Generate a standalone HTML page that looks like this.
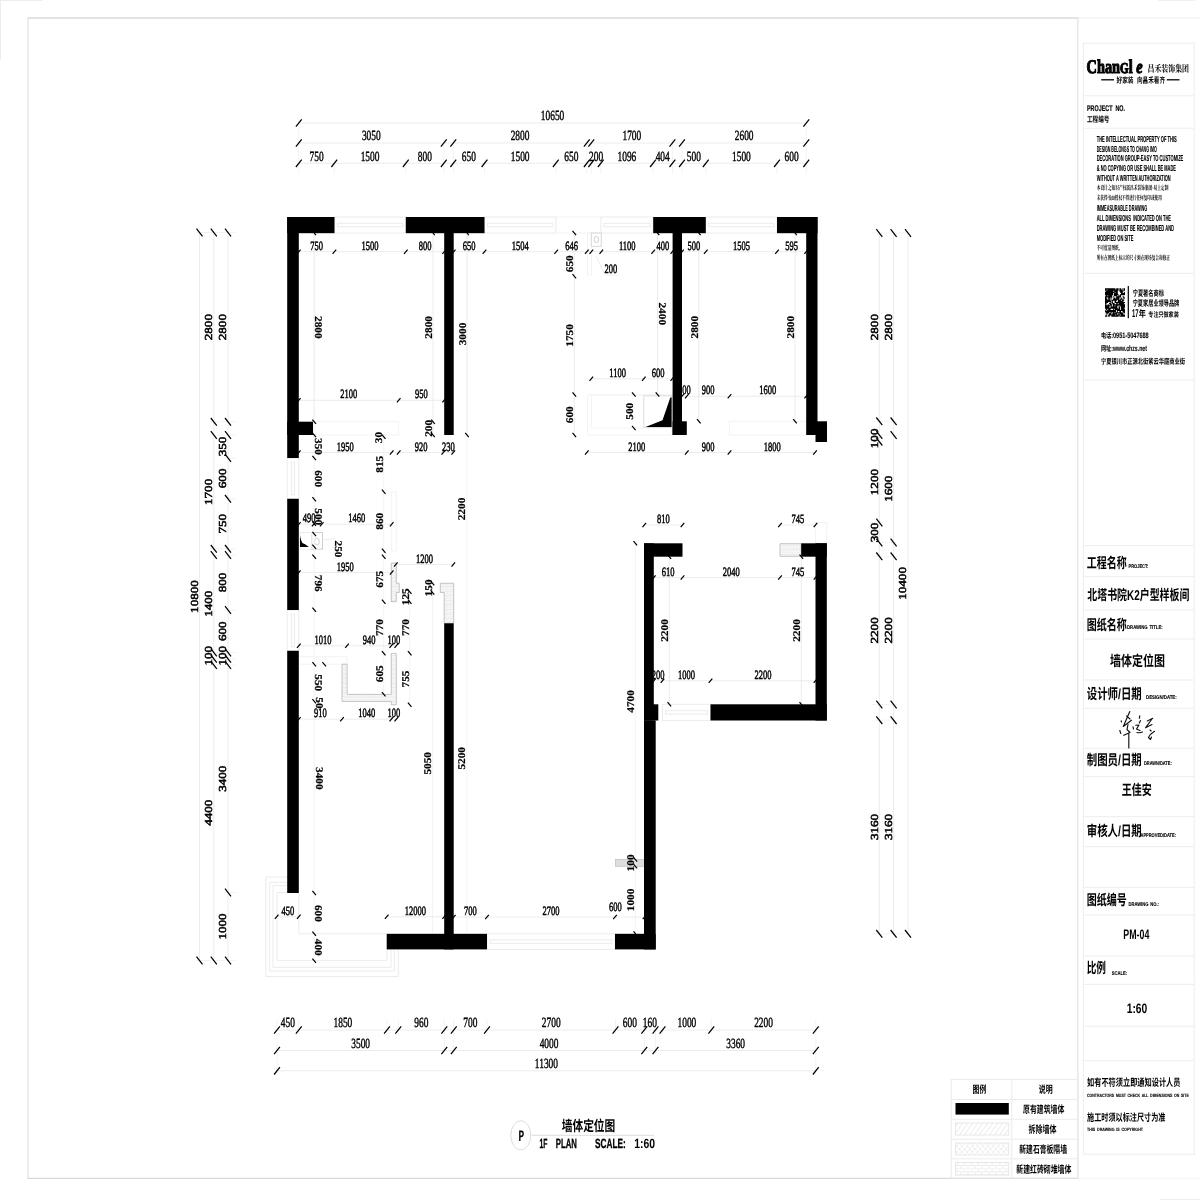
<!DOCTYPE html>
<html lang="zh"><head><meta charset="utf-8"><title>墙体定位图 1F PLAN SCALE 1:60</title>
<style>html,body{margin:0;padding:0;background:#fff}body{width:1200px;height:1200px;overflow:hidden;font-family:"Liberation Sans",sans-serif}svg{display:block;will-change:transform}text{text-rendering:geometricPrecision}.o{stroke-width:.3px}.ov{stroke-width:.5px}.i{stroke-width:.4px}.iv{font-weight:bold;stroke-width:.2px}.cs{font-family:"Liberation Serif","Noto Serif CJK SC",serif;font-weight:bold;fill:#000}.cg{font-family:"Liberation Sans","Noto Sans CJK SC",sans-serif;font-weight:bold;fill:#000}</style>
</head><body>
<svg width="1200" height="1200" viewBox="0 0 1200 1200" shape-rendering="auto">
<g id="plan"><line x1="27.5" y1="18" x2="1078" y2="18" stroke="#dadada" stroke-width="1.3"/>
<line x1="1078" y1="18" x2="1200" y2="18" stroke="#ececec" stroke-width="1"/>
<line x1="28" y1="18" x2="28" y2="1178.3" stroke="#e4e4e4" stroke-width="1.3"/>
<line x1="27.5" y1="1178.3" x2="1078" y2="1178.3" stroke="#d8d8d8" stroke-width="1.3"/>
<line x1="1078" y1="1178.3" x2="1200" y2="1178.3" stroke="#f4f4f4" stroke-width="1"/>
<line x1="1077.8" y1="18" x2="1077.8" y2="1178.3" stroke="#e4e4e4" stroke-width="1.3"/>
<line x1="0" y1="0.5" x2="42" y2="0.5" stroke="#ededed" stroke-width="1"/>
<line x1="1158" y1="0.5" x2="1195" y2="0.5" stroke="#f0f0f0" stroke-width="1"/>
<line x1="0.5" y1="0" x2="0.5" y2="60" stroke="#ededed" stroke-width="1"/>
<line x1="1160" y1="1199.5" x2="1200" y2="1199.5" stroke="#ededed" stroke-width="1"/>
<rect x="334.5" y="217" width="71.3" height="16" fill="none" stroke="#ececec" stroke-width="1"/>
<rect x="337.5" y="223.3" width="65.3" height="3.4" fill="none" stroke="#ececec"/>
<rect x="484.5" y="217" width="71.3" height="16" fill="none" stroke="#ececec" stroke-width="1"/>
<rect x="487.5" y="223.3" width="65.3" height="3.4" fill="none" stroke="#ececec"/>
<rect x="601" y="217" width="52.2" height="16" fill="none" stroke="#ececec" stroke-width="1"/>
<rect x="604" y="223.3" width="46.2" height="3.4" fill="none" stroke="#ececec"/>
<rect x="555.8" y="217" width="45.2" height="16" fill="none" stroke="#f3f3f3" stroke-width="1"/>
<rect x="705.8" y="217" width="71.2" height="16" fill="none" stroke="#ececec" stroke-width="1"/>
<rect x="708.8" y="223.3" width="65.2" height="3.4" fill="none" stroke="#ececec"/>
<rect x="287.2" y="458" width="11.6" height="40.8" fill="none" stroke="#ececec" stroke-width="1"/>
<rect x="291.5" y="462" width="3" height="32.8" fill="none" stroke="#ececec"/>
<rect x="287.2" y="610" width="11.6" height="40.8" fill="none" stroke="#ececec" stroke-width="1"/>
<rect x="291.5" y="614" width="3" height="32.8" fill="none" stroke="#ececec"/>
<rect x="487" y="933.8" width="128" height="15.6" fill="none" stroke="#ececec" stroke-width="1"/>
<rect x="490" y="939.9" width="122" height="3.4" fill="none" stroke="#ececec"/>
<rect x="662.5" y="704.3" width="48" height="16.2" fill="none" stroke="#ececec" stroke-width="1"/>
<rect x="665.5" y="710.7" width="42" height="3.4" fill="none" stroke="#ececec"/>
<path d="M287.2 877H265.8V976.5H398.3V949.4" fill="none" stroke="#ececec"/>
<path d="M287.2 882.3H269.7V971H394.3V949.4M287.2 885.5H273V967.3H391V949.4M287.2 892.5H277V960.4H387V949.4" fill="none" stroke="#ececec"/>
<path d="M298.8 893V933.8H386.7" fill="none" stroke="#ececec"/>
<rect x="313" y="421.7" width="85.7" height="13.3" fill="none" stroke="#f3f3f3" stroke-width="1"/>
<path d="M298.8 656.7H347V664.2M298.8 664.2H342" fill="none" stroke="#f3f3f3"/>
<rect x="587.5" y="395" width="84.5" height="40" fill="none" stroke="#f3f3f3" stroke-width="1"/>
<rect x="591.3" y="395" width="80.7" height="33" fill="none" stroke="#f3f3f3" stroke-width="1"/>
<rect x="643.8" y="395.8" width="27.7" height="31.7" fill="none" stroke="#dcdcdc" stroke-width="1"/>
<rect x="729.5" y="421.3" width="76.8" height="13.7" fill="none" stroke="#f3f3f3" stroke-width="1"/>
<rect x="587.5" y="233" width="3.8" height="42" fill="none" stroke="#f3f3f3" stroke-width="1"/>
<rect x="591.3" y="233" width="10" height="13.3" fill="none" stroke="#d8d8d8" stroke-width="1"/>
<ellipse cx="596.3" cy="239.6" rx="2.2" ry="3.3" fill="none" stroke="#d0d0d0"/>
<path d="M596.3 256L605 275H617.5" fill="none" stroke="#ececec"/>
<rect x="311.7" y="532.5" width="10.8" height="16.7" fill="none" stroke="#cfcfcf" stroke-width="1"/>
<ellipse cx="316.9" cy="541.5" rx="2.3" ry="3.4" fill="none" stroke="#cfcfcf"/>
<rect x="300" y="532.5" width="11.7" height="16.7" fill="none" stroke="#ececec" stroke-width="1"/>
<line x1="322.5" y1="540.2" x2="335" y2="538.5" stroke="#ececec" stroke-width="1"/>
<rect x="391.7" y="491.7" width="4.6" height="59.1" fill="none" stroke="#f3f3f3" stroke-width="1"/>
<rect x="815.5" y="522.5" width="11.3" height="20.8" fill="none" stroke="#f3f3f3" stroke-width="1"/>
<defs><pattern id="bk" width="3.4" height="4.6" patternUnits="userSpaceOnUse"><path d="M0 0H3.4M0 2.3H3.4M0 0V2.3M1.7 2.3V4.6" stroke="#e2e2e2" stroke-width="0.6" fill="none"/></pattern><pattern id="bk2" x="955.5" y="1162.5" width="7" height="6.25" patternUnits="userSpaceOnUse"><path d="M0 3.1H7M0 6.2H7M2 0V3.1M5.5 3.1V6.2" stroke="#e0e0e0" stroke-width="0.6" fill="none"/></pattern><pattern id="gy" width="2" height="2" patternUnits="userSpaceOnUse"><path d="M0 0L2 2M2 0L0 2" stroke="#c9c9c9" stroke-width="0.5"/></pattern><pattern id="dg" width="5" height="7" patternUnits="userSpaceOnUse"><path d="M0 7L5 0" stroke="#dedede" stroke-width="0.7"/></pattern><pattern id="xx" width="5.2" height="6" patternUnits="userSpaceOnUse"><path d="M0 0L5.2 6M5.2 0L0 6" stroke="#e3e3e3" stroke-width="0.6"/></pattern></defs>
<polygon points="342,664.2 347.1,664.2 347.1,694.4 391.3,694.4 391.3,653.4 396.3,653.4 396.3,704.8 391.3,704.8 391.3,701.4 342,701.4" fill="#fafafa"/>
<polygon points="342,664.2 347.1,664.2 347.1,694.4 391.3,694.4 391.3,653.4 396.3,653.4 396.3,704.8 391.3,704.8 391.3,701.4 342,701.4" fill="url(#bk)" stroke="#bdbdbd" stroke-width="0.9"/>
<polygon points="391.3,563 396.3,563 396.3,583.3 399.2,583.3 399.2,592.5 396.3,592.5 396.3,601.7 391.3,601.7" fill="#fafafa"/>
<polygon points="391.3,563 396.3,563 396.3,583.3 399.2,583.3 399.2,592.5 396.3,592.5 396.3,601.7 391.3,601.7" fill="url(#bk)" stroke="#bdbdbd" stroke-width="0.9"/>
<polygon points="440.3,583.3 453.7,583.3 453.7,623.3 444.2,623.3 444.2,592.5 440.3,592.5" fill="#fafafa"/>
<polygon points="440.3,583.3 453.7,583.3 453.7,623.3 444.2,623.3 444.2,592.5 440.3,592.5" fill="url(#bk)" stroke="#bdbdbd" stroke-width="0.9"/>
<polygon points="780,543.7 801.2,543.7 801.2,556.3 780,556.3" fill="#fafafa"/>
<polygon points="780,543.7 801.2,543.7 801.2,556.3 780,556.3" fill="url(#bk)" stroke="#bdbdbd" stroke-width="0.9"/>
<rect x="615.5" y="859.5" width="29" height="6.8" fill="#f3f3f3"/>
<rect x="615.5" y="859.5" width="29" height="6.8" fill="url(#gy)" stroke="#c4c4c4" stroke-width="0.8"/>
<rect x="287.2" y="217" width="47.3" height="16.2" fill="#000"/>
<rect x="287.2" y="217" width="11.6" height="241" fill="#000"/>
<rect x="287.2" y="421.7" width="25.8" height="13.3" fill="#000"/>
<rect x="287.2" y="498.8" width="11.6" height="111.2" fill="#000"/>
<rect x="287.2" y="650.8" width="11.6" height="242.2" fill="#000"/>
<rect x="405.8" y="217" width="78.7" height="16.2" fill="#000"/>
<rect x="444.2" y="217" width="9.5" height="218" fill="#000"/>
<rect x="653.2" y="217" width="52.6" height="16.2" fill="#000"/>
<rect x="672.6" y="217" width="9.4" height="218" fill="#000"/>
<rect x="672.6" y="421.3" width="14.2" height="13.7" fill="#000"/>
<rect x="777" y="217" width="40.5" height="16.2" fill="#000"/>
<rect x="806.2" y="217" width="11.3" height="218" fill="#000"/>
<rect x="815.5" y="421.3" width="11.5" height="20.7" fill="#000"/>
<rect x="444.2" y="623.3" width="9.5" height="326.1" fill="#000"/>
<rect x="386.7" y="933.8" width="100.3" height="15.6" fill="#000"/>
<rect x="615" y="933.8" width="40.7" height="15.6" fill="#000"/>
<rect x="644" y="720.4" width="11.7" height="229" fill="#000"/>
<rect x="644" y="543.3" width="9.8" height="177.2" fill="#000"/>
<rect x="644" y="704.3" width="14.3" height="16.2" fill="#000"/>
<rect x="644" y="543.3" width="38.5" height="13.4" fill="#000"/>
<rect x="801.2" y="543.3" width="25.6" height="13.4" fill="#000"/>
<rect x="815.5" y="543.3" width="11.3" height="177.2" fill="#000"/>
<rect x="710.5" y="704.3" width="116.3" height="16.2" fill="#000"/>
<polygon points="645.5,426.9 662.5,420.2 670.3,397.6 671.6,397.6 671.6,426.9" fill="#000"/>
<polygon points="300,535.8 300,547 308.8,547 305.5,544.6 302.4,543 301,540" fill="#000"/>
<line x1="298.8" y1="123" x2="806.3" y2="123" stroke="#ececec" stroke-width="1"/>
<line x1="298.8" y1="143" x2="806.3" y2="143" stroke="#ececec" stroke-width="1"/>
<line x1="298.8" y1="163.3" x2="806.3" y2="163.3" stroke="#ececec" stroke-width="1"/>
<line x1="298.8" y1="119" x2="298.8" y2="174" stroke="#f3f3f3" stroke-width="1"/>
<line x1="806.3" y1="119" x2="806.3" y2="174" stroke="#f3f3f3" stroke-width="1"/>
<line x1="443.8" y1="139" x2="443.8" y2="174" stroke="#f3f3f3" stroke-width="1"/>
<line x1="453.3" y1="139" x2="453.3" y2="174" stroke="#f3f3f3" stroke-width="1"/>
<line x1="586.8" y1="139" x2="586.8" y2="174" stroke="#f3f3f3" stroke-width="1"/>
<line x1="591.3" y1="139" x2="591.3" y2="174" stroke="#f3f3f3" stroke-width="1"/>
<line x1="672.4" y1="139" x2="672.4" y2="174" stroke="#f3f3f3" stroke-width="1"/>
<line x1="682" y1="139" x2="682" y2="174" stroke="#f3f3f3" stroke-width="1"/>
<line x1="334.3" y1="159" x2="334.3" y2="174" stroke="#f3f3f3" stroke-width="1"/>
<line x1="405.8" y1="159" x2="405.8" y2="174" stroke="#f3f3f3" stroke-width="1"/>
<line x1="484.5" y1="159" x2="484.5" y2="174" stroke="#f3f3f3" stroke-width="1"/>
<line x1="555.8" y1="159" x2="555.8" y2="174" stroke="#f3f3f3" stroke-width="1"/>
<line x1="600.8" y1="159" x2="600.8" y2="174" stroke="#f3f3f3" stroke-width="1"/>
<line x1="653" y1="159" x2="653" y2="174" stroke="#f3f3f3" stroke-width="1"/>
<line x1="705.8" y1="159" x2="705.8" y2="174" stroke="#f3f3f3" stroke-width="1"/>
<line x1="777" y1="159" x2="777" y2="174" stroke="#f3f3f3" stroke-width="1"/>
<line x1="277" y1="1030" x2="815.8" y2="1030" stroke="#ececec" stroke-width="1"/>
<line x1="277" y1="1050.5" x2="815.8" y2="1050.5" stroke="#ececec" stroke-width="1"/>
<line x1="277" y1="1070.8" x2="815.8" y2="1070.8" stroke="#ececec" stroke-width="1"/>
<line x1="277" y1="1019" x2="277" y2="1075" stroke="#f3f3f3" stroke-width="1"/>
<line x1="815.8" y1="1019" x2="815.8" y2="1075" stroke="#f3f3f3" stroke-width="1"/>
<line x1="444.3" y1="1019" x2="444.3" y2="1054" stroke="#f3f3f3" stroke-width="1"/>
<line x1="453.8" y1="1019" x2="453.8" y2="1054" stroke="#f3f3f3" stroke-width="1"/>
<line x1="644.3" y1="1019" x2="644.3" y2="1054" stroke="#f3f3f3" stroke-width="1"/>
<line x1="655.5" y1="1019" x2="655.5" y2="1054" stroke="#f3f3f3" stroke-width="1"/>
<line x1="298.8" y1="1019" x2="298.8" y2="1034" stroke="#f3f3f3" stroke-width="1"/>
<line x1="387" y1="1019" x2="387" y2="1034" stroke="#f3f3f3" stroke-width="1"/>
<line x1="398.3" y1="1019" x2="398.3" y2="1034" stroke="#f3f3f3" stroke-width="1"/>
<line x1="487" y1="1019" x2="487" y2="1034" stroke="#f3f3f3" stroke-width="1"/>
<line x1="615.5" y1="1019" x2="615.5" y2="1034" stroke="#f3f3f3" stroke-width="1"/>
<line x1="662.5" y1="1019" x2="662.5" y2="1034" stroke="#f3f3f3" stroke-width="1"/>
<line x1="711.3" y1="1019" x2="711.3" y2="1034" stroke="#f3f3f3" stroke-width="1"/>
<line x1="199.5" y1="232.5" x2="199.5" y2="960.5" stroke="#ececec" stroke-width="1"/>
<line x1="213.8" y1="232.5" x2="213.8" y2="960.5" stroke="#ececec" stroke-width="1"/>
<line x1="228" y1="232.5" x2="228" y2="960.5" stroke="#ececec" stroke-width="1"/>
<line x1="196" y1="232.5" x2="236" y2="232.5" stroke="#f3f3f3" stroke-width="1"/>
<line x1="196" y1="960.5" x2="236" y2="960.5" stroke="#f3f3f3" stroke-width="1"/>
<line x1="210" y1="421.8" x2="236" y2="421.8" stroke="#f3f3f3" stroke-width="1"/>
<line x1="210" y1="435" x2="236" y2="435" stroke="#f3f3f3" stroke-width="1"/>
<line x1="210" y1="548.8" x2="236" y2="548.8" stroke="#f3f3f3" stroke-width="1"/>
<line x1="210" y1="555" x2="236" y2="555" stroke="#f3f3f3" stroke-width="1"/>
<line x1="210" y1="652.5" x2="236" y2="652.5" stroke="#f3f3f3" stroke-width="1"/>
<line x1="210" y1="658.8" x2="236" y2="658.8" stroke="#f3f3f3" stroke-width="1"/>
<line x1="210" y1="665" x2="236" y2="665" stroke="#f3f3f3" stroke-width="1"/>
<line x1="224" y1="458" x2="236" y2="458" stroke="#f3f3f3" stroke-width="1"/>
<line x1="224" y1="498.8" x2="236" y2="498.8" stroke="#f3f3f3" stroke-width="1"/>
<line x1="224" y1="610" x2="236" y2="610" stroke="#f3f3f3" stroke-width="1"/>
<line x1="224" y1="892.5" x2="236" y2="892.5" stroke="#f3f3f3" stroke-width="1"/>
<line x1="879.3" y1="233" x2="879.3" y2="933.8" stroke="#ececec" stroke-width="1"/>
<line x1="893.6" y1="233" x2="893.6" y2="933.8" stroke="#ececec" stroke-width="1"/>
<line x1="908" y1="233" x2="908" y2="933.8" stroke="#ececec" stroke-width="1"/>
<line x1="872" y1="233" x2="912" y2="233" stroke="#f3f3f3" stroke-width="1"/>
<line x1="872" y1="933.8" x2="912" y2="933.8" stroke="#f3f3f3" stroke-width="1"/>
<line x1="872" y1="421.3" x2="897" y2="421.3" stroke="#f3f3f3" stroke-width="1"/>
<line x1="872" y1="435" x2="897" y2="435" stroke="#f3f3f3" stroke-width="1"/>
<line x1="872" y1="542.5" x2="897" y2="542.5" stroke="#f3f3f3" stroke-width="1"/>
<line x1="872" y1="556.3" x2="897" y2="556.3" stroke="#f3f3f3" stroke-width="1"/>
<line x1="872" y1="704.5" x2="897" y2="704.5" stroke="#f3f3f3" stroke-width="1"/>
<line x1="872" y1="720.2" x2="897" y2="720.2" stroke="#f3f3f3" stroke-width="1"/>
<line x1="872" y1="441.7" x2="883" y2="441.7" stroke="#f3f3f3" stroke-width="1"/>
<line x1="872" y1="522.5" x2="883" y2="522.5" stroke="#f3f3f3" stroke-width="1"/>
<line x1="298.8" y1="251.7" x2="444.2" y2="251.7" stroke="#ececec" stroke-width="1"/>
<line x1="453.7" y1="251.7" x2="672.3" y2="251.7" stroke="#ececec" stroke-width="1"/>
<line x1="682" y1="251.7" x2="806.2" y2="251.7" stroke="#ececec" stroke-width="1"/>
<line x1="314.2" y1="233" x2="314.2" y2="421.7" stroke="#ececec" stroke-width="1"/>
<line x1="314.2" y1="233" x2="314.2" y2="960.8" stroke="#f3f3f3" stroke-width="1"/>
<line x1="433" y1="233" x2="433" y2="435" stroke="#ececec" stroke-width="1"/>
<line x1="467" y1="233" x2="467" y2="435" stroke="#ececec" stroke-width="1"/>
<line x1="467" y1="233" x2="467" y2="933" stroke="#f3f3f3" stroke-width="1"/>
<line x1="574.3" y1="233" x2="574.3" y2="435" stroke="#ececec" stroke-width="1"/>
<line x1="657.5" y1="233" x2="657.5" y2="394.5" stroke="#ececec" stroke-width="1"/>
<line x1="698.8" y1="233" x2="698.8" y2="421.3" stroke="#ececec" stroke-width="1"/>
<line x1="795" y1="233" x2="795" y2="421.3" stroke="#ececec" stroke-width="1"/>
<line x1="298.8" y1="400.3" x2="444.2" y2="400.3" stroke="#ececec" stroke-width="1"/>
<line x1="298.8" y1="452.5" x2="453.3" y2="452.5" stroke="#ececec" stroke-width="1"/>
<line x1="591.3" y1="378.8" x2="672.3" y2="378.8" stroke="#ececec" stroke-width="1"/>
<line x1="682" y1="396.3" x2="806.2" y2="396.3" stroke="#ececec" stroke-width="1"/>
<line x1="586.8" y1="452.5" x2="815" y2="452.5" stroke="#ececec" stroke-width="1"/>
<line x1="383.7" y1="436.7" x2="383.7" y2="694.2" stroke="#f3f3f3" stroke-width="1"/>
<line x1="298.8" y1="524.2" x2="391.7" y2="524.2" stroke="#ececec" stroke-width="1"/>
<line x1="298.8" y1="572.5" x2="391.7" y2="572.5" stroke="#ececec" stroke-width="1"/>
<line x1="395.8" y1="564.5" x2="453.3" y2="564.5" stroke="#ececec" stroke-width="1"/>
<line x1="432.5" y1="583.3" x2="432.5" y2="933" stroke="#f3f3f3" stroke-width="1"/>
<line x1="409.7" y1="591.7" x2="409.7" y2="704.7" stroke="#f3f3f3" stroke-width="1"/>
<line x1="298.8" y1="645.8" x2="396.3" y2="645.8" stroke="#ececec" stroke-width="1"/>
<line x1="298.8" y1="719.2" x2="396.3" y2="719.2" stroke="#ececec" stroke-width="1"/>
<line x1="276.7" y1="916.8" x2="298.8" y2="916.8" stroke="#ececec" stroke-width="1"/>
<line x1="386.7" y1="916.8" x2="444.2" y2="916.8" stroke="#ececec" stroke-width="1"/>
<line x1="453.8" y1="917" x2="644.5" y2="917" stroke="#ececec" stroke-width="1"/>
<line x1="635.3" y1="543.3" x2="635.3" y2="933.5" stroke="#f3f3f3" stroke-width="1"/>
<line x1="644.3" y1="525" x2="682.5" y2="525" stroke="#ececec" stroke-width="1"/>
<line x1="780" y1="525" x2="815.5" y2="525" stroke="#ececec" stroke-width="1"/>
<line x1="653.8" y1="577.5" x2="815.5" y2="577.5" stroke="#ececec" stroke-width="1"/>
<line x1="669.3" y1="556.7" x2="669.3" y2="704.3" stroke="#ececec" stroke-width="1"/>
<line x1="801.3" y1="556.7" x2="801.3" y2="704.3" stroke="#ececec" stroke-width="1"/>
<line x1="653.8" y1="680.8" x2="815.5" y2="680.8" stroke="#ececec" stroke-width="1"/></g>
<path id="ticks" d="M295.9 126.7l5.8 -7.4M803.4 126.7l5.8 -7.4M295.9 146.7l5.8 -7.4M440.9 146.7l5.8 -7.4M450.4 146.7l5.8 -7.4M583.9 146.7l5.8 -7.4M588.4 146.7l5.8 -7.4M669.5 146.7l5.8 -7.4M679.1 146.7l5.8 -7.4M803.4 146.7l5.8 -7.4M295.9 167l5.8 -7.4M331.4 167l5.8 -7.4M402.9 167l5.8 -7.4M440.9 167l5.8 -7.4M450.4 167l5.8 -7.4M481.6 167l5.8 -7.4M552.9 167l5.8 -7.4M583.9 167l5.8 -7.4M588.4 167l5.8 -7.4M597.9 167l5.8 -7.4M650.1 167l5.8 -7.4M669.5 167l5.8 -7.4M679.1 167l5.8 -7.4M702.9 167l5.8 -7.4M774.1 167l5.8 -7.4M803.4 167l5.8 -7.4M274.1 1033.7l5.8 -7.4M295.9 1033.7l5.8 -7.4M384.1 1033.7l5.8 -7.4M395.4 1033.7l5.8 -7.4M441.4 1033.7l5.8 -7.4M450.9 1033.7l5.8 -7.4M484.1 1033.7l5.8 -7.4M612.6 1033.7l5.8 -7.4M641.4 1033.7l5.8 -7.4M652.6 1033.7l5.8 -7.4M659.6 1033.7l5.8 -7.4M708.4 1033.7l5.8 -7.4M812.9 1033.7l5.8 -7.4M274.1 1054.2l5.8 -7.4M441.4 1054.2l5.8 -7.4M450.9 1054.2l5.8 -7.4M641.4 1054.2l5.8 -7.4M652.6 1054.2l5.8 -7.4M812.9 1054.2l5.8 -7.4M274.1 1074.5l5.8 -7.4M812.9 1074.5l5.8 -7.4M196.5 228.7l6 7.6M196.5 956.7l6 7.6M210.8 228.7l6 7.6M210.8 418l6 7.6M210.8 431.2l6 7.6M210.8 545l6 7.6M210.8 551.2l6 7.6M210.8 648.7l6 7.6M210.8 655l6 7.6M210.8 661.2l6 7.6M210.8 956.7l6 7.6M225 228.7l6 7.6M225 418l6 7.6M225 431.2l6 7.6M225 454.2l6 7.6M225 495l6 7.6M225 545l6 7.6M225 551.2l6 7.6M225 606.2l6 7.6M225 648.7l6 7.6M225 655l6 7.6M225 661.2l6 7.6M225 888.7l6 7.6M225 956.7l6 7.6M876.3 229.2l6 7.6M876.3 417.5l6 7.6M876.3 431.2l6 7.6M876.3 437.9l6 7.6M876.3 518.7l6 7.6M876.3 538.7l6 7.6M876.3 552.5l6 7.6M876.3 700.7l6 7.6M876.3 716.4l6 7.6M876.3 930l6 7.6M890.6 229.2l6 7.6M890.6 417.5l6 7.6M890.6 431.2l6 7.6M890.6 538.7l6 7.6M890.6 552.5l6 7.6M890.6 700.7l6 7.6M890.6 716.4l6 7.6M890.6 930l6 7.6M905 229.2l6 7.6M905 930l6 7.6M297 253.8l3.6 -4.2M332.6 253.8l3.6 -4.2M404 253.8l3.6 -4.2M442.4 253.8l3.6 -4.2M451.9 253.8l3.6 -4.2M482.7 253.8l3.6 -4.2M554.4 253.8l3.6 -4.2M585 253.8l3.6 -4.2M589.5 253.8l3.6 -4.2M599.5 253.8l3.6 -4.2M651.4 253.8l3.6 -4.2M670.5 253.8l3.6 -4.2M680.2 253.8l3.6 -4.2M704 253.8l3.6 -4.2M775.2 253.8l3.6 -4.2M804.4 253.8l3.6 -4.2M312.4 230.9l3.6 4.2M312.4 419.6l3.6 4.2M431.2 230.9l3.6 4.2M431.2 419.6l3.6 4.2M431.2 432.9l3.6 4.2M465.2 230.9l3.6 4.2M465.2 432.9l3.6 4.2M572.5 230.9l3.6 4.2M572.5 274.2l3.6 4.2M572.5 392.4l3.6 4.2M572.5 432.9l3.6 4.2M655.7 230.9l3.6 4.2M655.7 392.4l3.6 4.2M697 230.9l3.6 4.2M697 419.2l3.6 4.2M793.2 230.9l3.6 4.2M793.2 419.2l3.6 4.2M297 402.4l3.6 -4.2M396.9 402.4l3.6 -4.2M442.4 402.4l3.6 -4.2M297 454.6l3.6 -4.2M389.9 454.6l3.6 -4.2M396.9 454.6l3.6 -4.2M441.5 454.6l3.6 -4.2M451.5 454.6l3.6 -4.2M589.5 380.9l3.6 -4.2M642 380.9l3.6 -4.2M670.5 380.9l3.6 -4.2M680.2 398.4l3.6 -4.2M685 398.4l3.6 -4.2M727.7 398.4l3.6 -4.2M804.4 398.4l3.6 -4.2M585 454.6l3.6 -4.2M685 454.6l3.6 -4.2M727.7 454.6l3.6 -4.2M813.2 454.6l3.6 -4.2M632 392.4l3.6 4.2M632 425.9l3.6 4.2M312.4 432.9l3.6 4.2M312.4 455.9l3.6 4.2M312.4 497.1l3.6 4.2M312.4 521.6l3.6 4.2M312.4 531.9l3.6 4.2M312.4 544.6l3.6 4.2M312.4 554.6l3.6 4.2M312.4 607.6l3.6 4.2M312.4 662.1l3.6 4.2M312.4 699.2l3.6 4.2M312.4 890.9l3.6 4.2M312.4 931.7l3.6 4.2M312.4 958.7l3.6 4.2M381.9 434.6l3.6 4.2M381.9 489.6l3.6 4.2M381.9 548.7l3.6 4.2M381.9 554.6l3.6 4.2M381.9 599.6l3.6 4.2M381.9 651.2l3.6 4.2M381.9 692.1l3.6 4.2M297 526.3l3.6 -4.2M311.9 526.3l3.6 -4.2M319.9 526.3l3.6 -4.2M389.9 526.3l3.6 -4.2M297 574.6l3.6 -4.2M389.9 574.6l3.6 -4.2M394 566.6l3.6 -4.2M451.5 566.6l3.6 -4.2M430.7 581.2l3.6 4.2M430.7 590.4l3.6 4.2M407.9 589.6l3.6 4.2M407.9 599.6l3.6 4.2M407.9 651.2l3.6 4.2M407.9 702.6l3.6 4.2M297 647.9l3.6 -4.2M345.2 647.9l3.6 -4.2M389.5 647.9l3.6 -4.2M394.5 647.9l3.6 -4.2M297 721.3l3.6 -4.2M340.2 721.3l3.6 -4.2M389.5 721.3l3.6 -4.2M394.5 721.3l3.6 -4.2M322.4 662.1l3.6 4.2M274.9 918.9l3.6 -4.2M297 918.9l3.6 -4.2M384.9 918.9l3.6 -4.2M442.4 918.9l3.6 -4.2M452 919.1l3.6 -4.2M485.2 919.1l3.6 -4.2M613.2 919.1l3.6 -4.2M642.7 919.1l3.6 -4.2M633.5 541.2l3.6 4.2M633.5 857.4l3.6 4.2M633.5 864.2l3.6 4.2M633.5 931.4l3.6 4.2M642.5 527.1l3.6 -4.2M680.7 527.1l3.6 -4.2M778.2 527.1l3.6 -4.2M813.7 527.1l3.6 -4.2M652 579.6l3.6 -4.2M680.7 579.6l3.6 -4.2M778.2 579.6l3.6 -4.2M813.7 579.6l3.6 -4.2M667.5 554.6l3.6 4.2M667.5 702.2l3.6 4.2M799.5 554.6l3.6 4.2M799.5 702.2l3.6 4.2M652 682.9l3.6 -4.2M660.7 682.9l3.6 -4.2M708.7 682.9l3.6 -4.2M813.7 682.9l3.6 -4.2" stroke="#000" stroke-width="1.25" fill="none"/>
<g id="dims" font-family="Liberation Serif" font-size="10" fill="#000" stroke="#000"><text class="o" transform="translate(552.55 120.2) scale(0.94 1.4)" text-anchor="middle">10650</text>
<text class="o" transform="translate(371.3 140.2) scale(0.94 1.4)" text-anchor="middle">3050</text>
<text class="o" transform="translate(520.05 140.2) scale(0.94 1.4)" text-anchor="middle">2800</text>
<text class="o" transform="translate(631.85 140.2) scale(0.94 1.4)" text-anchor="middle">1700</text>
<text class="o" transform="translate(744.15 140.2) scale(0.94 1.4)" text-anchor="middle">2600</text>
<text class="o" transform="translate(316.55 160.5) scale(0.94 1.4)" text-anchor="middle">750</text>
<text class="o" transform="translate(370.05 160.5) scale(0.94 1.4)" text-anchor="middle">1500</text>
<text class="o" transform="translate(424.8 160.5) scale(0.94 1.4)" text-anchor="middle">800</text>
<text class="o" transform="translate(468.9 160.5) scale(0.94 1.4)" text-anchor="middle">650</text>
<text class="o" transform="translate(520.15 160.5) scale(0.94 1.4)" text-anchor="middle">1500</text>
<text class="o" transform="translate(571.3 160.5) scale(0.94 1.4)" text-anchor="middle">650</text>
<text class="o" transform="translate(596.05 160.5) scale(0.94 1.4)" text-anchor="middle">200</text>
<text class="o" transform="translate(626.9 160.5) scale(0.94 1.4)" text-anchor="middle">1096</text>
<text class="o" transform="translate(662.7 160.5) scale(0.94 1.4)" text-anchor="middle">404</text>
<text class="o" transform="translate(693.9 160.5) scale(0.94 1.4)" text-anchor="middle">500</text>
<text class="o" transform="translate(741.4 160.5) scale(0.94 1.4)" text-anchor="middle">1500</text>
<text class="o" transform="translate(791.65 160.5) scale(0.94 1.4)" text-anchor="middle">600</text>
<text class="o" transform="translate(287.9 1027.2) scale(0.94 1.4)" text-anchor="middle">450</text>
<text class="o" transform="translate(342.9 1027.2) scale(0.94 1.4)" text-anchor="middle">1850</text>
<text class="o" transform="translate(421.3 1027.2) scale(0.94 1.4)" text-anchor="middle">960</text>
<text class="o" transform="translate(470.4 1027.2) scale(0.94 1.4)" text-anchor="middle">700</text>
<text class="o" transform="translate(551.25 1027.2) scale(0.94 1.4)" text-anchor="middle">2700</text>
<text class="o" transform="translate(629.9 1027.2) scale(0.94 1.4)" text-anchor="middle">600</text>
<text class="o" transform="translate(649.9 1027.2) scale(0.94 1.4)" text-anchor="middle">160</text>
<text class="o" transform="translate(686.9 1027.2) scale(0.94 1.4)" text-anchor="middle">1000</text>
<text class="o" transform="translate(763.55 1027.2) scale(0.94 1.4)" text-anchor="middle">2200</text>
<text class="o" transform="translate(360.65 1047.7) scale(0.94 1.4)" text-anchor="middle">3500</text>
<text class="o" transform="translate(549.05 1047.7) scale(0.94 1.4)" text-anchor="middle">4000</text>
<text class="o" transform="translate(735.65 1047.7) scale(0.94 1.4)" text-anchor="middle">3360</text>
<text class="o" transform="translate(546.4 1068) scale(0.94 1.4)" text-anchor="middle">11300</text>
<text class="ov" transform="translate(197.75 596.5) rotate(-90) scale(1.31 1.07)" text-anchor="middle">10800</text>
<text class="ov" transform="translate(212.05 327.15) rotate(-90) scale(1.31 1.07)" text-anchor="middle">2800</text>
<text class="ov" transform="translate(212.05 491.9) rotate(-90) scale(1.31 1.07)" text-anchor="middle">1700</text>
<text class="ov" transform="translate(212.05 603.75) rotate(-90) scale(1.31 1.07)" text-anchor="middle">1400</text>
<text class="ov" transform="translate(212.05 655.65) rotate(-90) scale(1.31 1.07)" text-anchor="middle">100</text>
<text class="ov" transform="translate(212.05 812.75) rotate(-90) scale(1.31 1.07)" text-anchor="middle">4400</text>
<text class="ov" transform="translate(226.25 327.15) rotate(-90) scale(1.31 1.07)" text-anchor="middle">2800</text>
<text class="ov" transform="translate(226.25 446.5) rotate(-90) scale(1.31 1.07)" text-anchor="middle">350</text>
<text class="ov" transform="translate(226.25 478.4) rotate(-90) scale(1.31 1.07)" text-anchor="middle">600</text>
<text class="ov" transform="translate(226.25 523.8) rotate(-90) scale(1.31 1.07)" text-anchor="middle">750</text>
<text class="ov" transform="translate(226.25 582.5) rotate(-90) scale(1.31 1.07)" text-anchor="middle">800</text>
<text class="ov" transform="translate(226.25 631.25) rotate(-90) scale(1.31 1.07)" text-anchor="middle">600</text>
<text class="ov" transform="translate(226.25 655.65) rotate(-90) scale(1.31 1.07)" text-anchor="middle">100</text>
<text class="ov" transform="translate(226.25 778.75) rotate(-90) scale(1.31 1.07)" text-anchor="middle">3400</text>
<text class="ov" transform="translate(226.25 926.5) rotate(-90) scale(1.31 1.07)" text-anchor="middle">1000</text>
<text class="ov" transform="translate(877.55 327.15) rotate(-90) scale(1.31 1.07)" text-anchor="middle">2800</text>
<text class="ov" transform="translate(877.55 438.35) rotate(-90) scale(1.31 1.07)" text-anchor="middle">100</text>
<text class="ov" transform="translate(877.55 482.1) rotate(-90) scale(1.31 1.07)" text-anchor="middle">1200</text>
<text class="ov" transform="translate(877.55 532.5) rotate(-90) scale(1.31 1.07)" text-anchor="middle">300</text>
<text class="ov" transform="translate(877.55 630.4) rotate(-90) scale(1.31 1.07)" text-anchor="middle">2200</text>
<text class="ov" transform="translate(877.55 827) rotate(-90) scale(1.31 1.07)" text-anchor="middle">3160</text>
<text class="ov" transform="translate(891.85 327.15) rotate(-90) scale(1.31 1.07)" text-anchor="middle">2800</text>
<text class="ov" transform="translate(891.85 488.75) rotate(-90) scale(1.31 1.07)" text-anchor="middle">1600</text>
<text class="ov" transform="translate(891.85 630.4) rotate(-90) scale(1.31 1.07)" text-anchor="middle">2200</text>
<text class="ov" transform="translate(891.85 827) rotate(-90) scale(1.31 1.07)" text-anchor="middle">3160</text>
<text class="ov" transform="translate(906.25 583.4) rotate(-90) scale(1.31 1.07)" text-anchor="middle">10400</text>
<text class="i" transform="translate(316.6 249.7) scale(0.85 1.27)" text-anchor="middle">750</text>
<text class="i" transform="translate(370.1 249.7) scale(0.85 1.27)" text-anchor="middle">1500</text>
<text class="i" transform="translate(425 249.7) scale(0.85 1.27)" text-anchor="middle">800</text>
<text class="i" transform="translate(469.1 249.7) scale(0.85 1.27)" text-anchor="middle">650</text>
<text class="i" transform="translate(520.35 249.7) scale(0.85 1.27)" text-anchor="middle">1504</text>
<text class="i" transform="translate(571.5 249.7) scale(0.85 1.27)" text-anchor="middle">646</text>
<text class="i" transform="translate(627.25 249.7) scale(0.85 1.27)" text-anchor="middle">1100</text>
<text class="i" transform="translate(662.75 249.7) scale(0.85 1.27)" text-anchor="middle">400</text>
<text class="i" transform="translate(693.9 249.7) scale(0.85 1.27)" text-anchor="middle">500</text>
<text class="i" transform="translate(741.4 249.7) scale(0.85 1.27)" text-anchor="middle">1505</text>
<text class="i" transform="translate(791.6 249.7) scale(0.85 1.27)" text-anchor="middle">595</text>
<text class="i" transform="translate(610.8 272.5) scale(0.85 1.27)" text-anchor="middle">200</text>
<text class="iv" transform="translate(315.2 327.35) rotate(90) scale(1.13 1.03)" text-anchor="middle">2800</text>
<text class="iv" transform="translate(432 327.35) rotate(-90) scale(1.13 1.03)" text-anchor="middle">2800</text>
<text class="iv" transform="translate(432 428.35) rotate(-90) scale(1.13 1.03)" text-anchor="middle">200</text>
<text class="iv" transform="translate(466 334) rotate(-90) scale(1.13 1.03)" text-anchor="middle">3000</text>
<text class="iv" transform="translate(573.3 335.4) rotate(-90) scale(1.13 1.03)" text-anchor="middle">1750</text>
<text class="iv" transform="translate(573.3 414.75) rotate(-90) scale(1.13 1.03)" text-anchor="middle">600</text>
<text class="iv" transform="translate(573.3 263.8) rotate(-90) scale(1.13 1.03)" text-anchor="middle">650</text>
<text class="iv" transform="translate(658.5 313.75) rotate(90) scale(1.13 1.03)" text-anchor="middle">2400</text>
<text class="iv" transform="translate(697.8 327.15) rotate(-90) scale(1.13 1.03)" text-anchor="middle">2800</text>
<text class="iv" transform="translate(794 327.15) rotate(-90) scale(1.13 1.03)" text-anchor="middle">2800</text>
<text class="i" transform="translate(348.75 398.3) scale(0.85 1.27)" text-anchor="middle">2100</text>
<text class="i" transform="translate(421.45 398.3) scale(0.85 1.27)" text-anchor="middle">950</text>
<text class="i" transform="translate(345.25 450.5) scale(0.85 1.27)" text-anchor="middle">1950</text>
<text class="i" transform="translate(421 450.5) scale(0.85 1.27)" text-anchor="middle">920</text>
<text class="i" transform="translate(448.3 450.5) scale(0.85 1.27)" text-anchor="middle">230</text>
<text class="i" transform="translate(617.55 376.8) scale(0.85 1.27)" text-anchor="middle">1100</text>
<text class="i" transform="translate(658.05 376.8) scale(0.85 1.27)" text-anchor="middle">600</text>
<text class="i" transform="translate(684.4 394.3) scale(0.85 1.27)" text-anchor="middle">100</text>
<text class="i" transform="translate(708.15 394.3) scale(0.85 1.27)" text-anchor="middle">900</text>
<text class="i" transform="translate(767.85 394.3) scale(0.85 1.27)" text-anchor="middle">1600</text>
<text class="i" transform="translate(636.8 450.5) scale(0.85 1.27)" text-anchor="middle">2100</text>
<text class="i" transform="translate(708.15 450.5) scale(0.85 1.27)" text-anchor="middle">900</text>
<text class="i" transform="translate(772.25 450.5) scale(0.85 1.27)" text-anchor="middle">1800</text>
<text class="iv" transform="translate(632.8 411.25) rotate(-90) scale(1.13 1.03)" text-anchor="middle">500</text>
<text class="iv" transform="translate(315.2 446.5) rotate(90) scale(1.13 1.03)" text-anchor="middle">350</text>
<text class="iv" transform="translate(315.2 478.6) rotate(90) scale(1.13 1.03)" text-anchor="middle">600</text>
<text class="iv" transform="translate(315.2 516.7) rotate(90) scale(1.13 1.03)" text-anchor="middle">500</text>
<text class="iv" transform="translate(315.2 583.2) rotate(90) scale(1.13 1.03)" text-anchor="middle">796</text>
<text class="iv" transform="translate(315.2 682.75) rotate(90) scale(1.13 1.03)" text-anchor="middle">550</text>
<text class="iv" transform="translate(315.8 703) rotate(90) scale(1.13 1.03)" text-anchor="middle">50</text>
<text class="iv" transform="translate(315.2 913.4) rotate(90) scale(1.13 1.03)" text-anchor="middle">600</text>
<text class="iv" transform="translate(315.2 947.3) rotate(90) scale(1.13 1.03)" text-anchor="middle">400</text>
<text class="iv" transform="translate(315.8 778.3) rotate(90) scale(1.13 1.03)" text-anchor="middle">3400</text>
<text class="iv" transform="translate(382.7 464.2) rotate(-90) scale(1.13 1.03)" text-anchor="middle">815</text>
<text class="iv" transform="translate(382.7 521.25) rotate(-90) scale(1.13 1.03)" text-anchor="middle">860</text>
<text class="iv" transform="translate(382.7 579.2) rotate(-90) scale(1.13 1.03)" text-anchor="middle">675</text>
<text class="iv" transform="translate(382.7 627.5) rotate(-90) scale(1.13 1.03)" text-anchor="middle">770</text>
<text class="iv" transform="translate(382.7 673.75) rotate(-90) scale(1.13 1.03)" text-anchor="middle">605</text>
<text class="iv" transform="translate(382.1 437.5) rotate(-90) scale(1.13 1.03)" text-anchor="middle">30</text>
<text class="i" transform="translate(356.7 522.2) scale(0.85 1.27)" text-anchor="middle">1460</text>
<text class="i" transform="translate(309.2 522.2) scale(0.85 1.27)" text-anchor="middle">490</text>
<text class="iv" transform="translate(334.5 549) rotate(90) scale(1.13 1.03)" text-anchor="middle">250</text>
<text class="i" transform="translate(345.25 570.5) scale(0.85 1.27)" text-anchor="middle">1950</text>
<text class="i" transform="translate(424.55 562.5) scale(0.85 1.27)" text-anchor="middle">1200</text>
<text class="iv" transform="translate(431.5 587.9) rotate(-90) scale(1.13 1.03)" text-anchor="middle">150</text>
<text class="iv" transform="translate(430.9 763.3) rotate(-90) scale(1.13 1.03)" text-anchor="middle">5050</text>
<text class="iv" transform="translate(465.4 758.3) rotate(-90) scale(1.13 1.03)" text-anchor="middle">5200</text>
<text class="iv" transform="translate(465.4 509) rotate(-90) scale(1.13 1.03)" text-anchor="middle">2200</text>
<text class="iv" transform="translate(408.7 596.7) rotate(-90) scale(1.13 1.03)" text-anchor="middle">125</text>
<text class="iv" transform="translate(408.7 627.5) rotate(-90) scale(1.13 1.03)" text-anchor="middle">770</text>
<text class="iv" transform="translate(408.7 679) rotate(-90) scale(1.13 1.03)" text-anchor="middle">755</text>
<text class="i" transform="translate(322.9 643.8) scale(0.85 1.27)" text-anchor="middle">1010</text>
<text class="i" transform="translate(369.15 643.8) scale(0.85 1.27)" text-anchor="middle">940</text>
<text class="i" transform="translate(393.8 643.8) scale(0.85 1.27)" text-anchor="middle">100</text>
<text class="i" transform="translate(320.4 717.2) scale(0.85 1.27)" text-anchor="middle">910</text>
<text class="i" transform="translate(366.65 717.2) scale(0.85 1.27)" text-anchor="middle">1040</text>
<text class="i" transform="translate(393.8 717.2) scale(0.85 1.27)" text-anchor="middle">100</text>
<text class="i" transform="translate(287.75 914.8) scale(0.85 1.27)" text-anchor="middle">450</text>
<text class="i" transform="translate(415.45 914.8) scale(0.85 1.27)" text-anchor="middle">12000</text>
<text class="i" transform="translate(470.4 915) scale(0.85 1.27)" text-anchor="middle">700</text>
<text class="i" transform="translate(551 915) scale(0.85 1.27)" text-anchor="middle">2700</text>
<text class="i" transform="translate(615.3 910.6) scale(0.85 1.27)" text-anchor="middle">600</text>
<text class="iv" transform="translate(634.3 701.4) rotate(-90) scale(1.13 1.03)" text-anchor="middle">4700</text>
<text class="iv" transform="translate(634.3 862.9) rotate(-90) scale(1.13 1.03)" text-anchor="middle">100</text>
<text class="iv" transform="translate(634.3 899.9) rotate(-90) scale(1.13 1.03)" text-anchor="middle">1000</text>
<text class="i" transform="translate(663.4 523) scale(0.85 1.27)" text-anchor="middle">810</text>
<text class="i" transform="translate(797.75 523) scale(0.85 1.27)" text-anchor="middle">745</text>
<text class="i" transform="translate(668.15 575.5) scale(0.85 1.27)" text-anchor="middle">610</text>
<text class="i" transform="translate(731.25 575.5) scale(0.85 1.27)" text-anchor="middle">2040</text>
<text class="i" transform="translate(797.75 575.5) scale(0.85 1.27)" text-anchor="middle">745</text>
<text class="iv" transform="translate(668.3 630.5) rotate(-90) scale(1.13 1.03)" text-anchor="middle">2200</text>
<text class="iv" transform="translate(800.3 630.5) rotate(-90) scale(1.13 1.03)" text-anchor="middle">2200</text>
<text class="i" transform="translate(658.15 678.8) scale(0.85 1.27)" text-anchor="middle">200</text>
<text class="i" transform="translate(686.5 678.8) scale(0.85 1.27)" text-anchor="middle">1000</text>
<text class="i" transform="translate(763 678.8) scale(0.85 1.27)" text-anchor="middle">2200</text></g>
<g id="titleblock"><rect x="1083.3" y="43.2" width="110.9" height="1111" fill="none" stroke="#ededed" stroke-width="1"/>
<line x1="1083.3" y1="95.8" x2="1194.2" y2="95.8" stroke="#ededed" stroke-width="1"/>
<line x1="1083.3" y1="128.2" x2="1194.2" y2="128.2" stroke="#ededed" stroke-width="1"/>
<line x1="1083.3" y1="273.3" x2="1194.2" y2="273.3" stroke="#ededed" stroke-width="1"/>
<line x1="1083.3" y1="380" x2="1194.2" y2="380" stroke="#ededed" stroke-width="1"/>
<line x1="1083.3" y1="545.7" x2="1194.2" y2="545.7" stroke="#ededed" stroke-width="1"/>
<line x1="1083.3" y1="576.7" x2="1194.2" y2="576.7" stroke="#ededed" stroke-width="1"/>
<line x1="1083.3" y1="610" x2="1194.2" y2="610" stroke="#ededed" stroke-width="1"/>
<line x1="1083.3" y1="639" x2="1194.2" y2="639" stroke="#ededed" stroke-width="1"/>
<line x1="1083.3" y1="680" x2="1194.2" y2="680" stroke="#ededed" stroke-width="1"/>
<line x1="1083.3" y1="708.3" x2="1194.2" y2="708.3" stroke="#ededed" stroke-width="1"/>
<line x1="1083.3" y1="748.3" x2="1194.2" y2="748.3" stroke="#ededed" stroke-width="1"/>
<line x1="1083.3" y1="776.7" x2="1194.2" y2="776.7" stroke="#ededed" stroke-width="1"/>
<line x1="1083.3" y1="816.7" x2="1194.2" y2="816.7" stroke="#ededed" stroke-width="1"/>
<line x1="1083.3" y1="846.7" x2="1194.2" y2="846.7" stroke="#ededed" stroke-width="1"/>
<line x1="1083.3" y1="887.3" x2="1194.2" y2="887.3" stroke="#ededed" stroke-width="1"/>
<line x1="1083.3" y1="915" x2="1194.2" y2="915" stroke="#ededed" stroke-width="1"/>
<line x1="1083.3" y1="956" x2="1194.2" y2="956" stroke="#ededed" stroke-width="1"/>
<line x1="1083.3" y1="984.3" x2="1194.2" y2="984.3" stroke="#ededed" stroke-width="1"/>
<line x1="1083.3" y1="1026.2" x2="1194.2" y2="1026.2" stroke="#ededed" stroke-width="1"/>
<line x1="1083.3" y1="1060.7" x2="1194.2" y2="1060.7" stroke="#ededed" stroke-width="1"/>
<text x="1086.6" y="73.2" textLength="56" lengthAdjust="spacingAndGlyphs" font-family="Liberation Serif" font-weight="bold" font-size="19.3" stroke="#000" stroke-width="1.15">Chan<tspan font-size="15">G</tspan>l<tspan font-style="italic"> e</tspan></text>
<text class="cs" x="1147.5" y="71.84" font-size="9.57" textLength="41.5" lengthAdjust="spacingAndGlyphs">昌禾装饰集团</text>
<line x1="1101.2" y1="79.8" x2="1114" y2="79.8" stroke="#000" stroke-width="1.3"/>
<line x1="1166.8" y1="79.8" x2="1179.5" y2="79.8" stroke="#000" stroke-width="1.3"/>
<text class="cg" x="1116.5" y="82.66" font-size="7.93" textLength="17" lengthAdjust="spacingAndGlyphs">好家装</text>
<text class="cg" x="1137" y="82.66" font-size="7.93" textLength="28" lengthAdjust="spacingAndGlyphs">向昌禾看齐</text>
<text x="1087" y="111.1" font-family="Liberation Sans" font-weight="bold" font-size="8.1" textLength="38" lengthAdjust="spacingAndGlyphs" xml:space="preserve" stroke="#000" stroke-width="0.2">PROJECT  NO.</text>
<text class="cg" x="1087" y="121.52" font-size="7.83" textLength="22.5" lengthAdjust="spacingAndGlyphs">工程编号</text>
<text x="1096.7" y="142.4" font-family="Liberation Sans" font-weight="bold" font-size="8.66" textLength="80" lengthAdjust="spacingAndGlyphs" xml:space="preserve" stroke="#000" stroke-width="0.15">THE INTELLECTUAL PROPERTY OF THIS</text>
<text x="1096.7" y="152.1" font-family="Liberation Sans" font-weight="bold" font-size="8.66" textLength="60" lengthAdjust="spacingAndGlyphs" xml:space="preserve" stroke="#000" stroke-width="0.15">DESIGN BELONGS TO CHANG IMO</text>
<text x="1096.7" y="161.4" font-family="Liberation Sans" font-weight="bold" font-size="8.66" textLength="86.6" lengthAdjust="spacingAndGlyphs" xml:space="preserve" stroke="#000" stroke-width="0.15">DECORATION GROUP-EASY TO CUSTOMIZE</text>
<text x="1096.7" y="170.9" font-family="Liberation Sans" font-weight="bold" font-size="8.66" textLength="79.3" lengthAdjust="spacingAndGlyphs" xml:space="preserve" stroke="#000" stroke-width="0.15">&amp; NO COPYING OR USE SHALL BE MADE</text>
<text x="1096.7" y="180.5" font-family="Liberation Sans" font-weight="bold" font-size="8.66" textLength="74" lengthAdjust="spacingAndGlyphs" xml:space="preserve" stroke="#000" stroke-width="0.15">WITHOUT A WRITTEN AUTHORIZATION</text>
<text class="cs" x="1096.7" y="190.11" font-size="6.41" textLength="71.7" lengthAdjust="spacingAndGlyphs">本设计之知识产权属昌禾装饰集团·易上定制</text>
<text class="cs" x="1096.7" y="199.71" font-size="6.41" textLength="65.1" lengthAdjust="spacingAndGlyphs">未获得书面授权不得进行任何复印或使用</text>
<text x="1096.7" y="210.8" font-family="Liberation Sans" font-weight="bold" font-size="8.66" textLength="50.6" lengthAdjust="spacingAndGlyphs" xml:space="preserve" stroke="#000" stroke-width="0.15">IMMEASURABLE DRAWING</text>
<text x="1096.7" y="220.5" font-family="Liberation Sans" font-weight="bold" font-size="8.66" textLength="74.3" lengthAdjust="spacingAndGlyphs" xml:space="preserve" stroke="#000" stroke-width="0.15">ALL DIMENSIONS  INDICATED ON THE</text>
<text x="1096.7" y="230.5" font-family="Liberation Sans" font-weight="bold" font-size="8.66" textLength="77.3" lengthAdjust="spacingAndGlyphs" xml:space="preserve" stroke="#000" stroke-width="0.15">DRAWING MUST BE RECOMBINED AND</text>
<text x="1096.7" y="240.5" font-family="Liberation Sans" font-weight="bold" font-size="8.66" textLength="36.6" lengthAdjust="spacingAndGlyphs" xml:space="preserve" stroke="#000" stroke-width="0.15">MODIFIED ON SITE</text>
<text class="cs" x="1096.7" y="249.71" font-size="6.41" textLength="23" lengthAdjust="spacingAndGlyphs">不可度量图纸,</text>
<text class="cs" x="1096.7" y="259.71" font-size="6.41" textLength="73.3" lengthAdjust="spacingAndGlyphs">所有在图纸上标示的尺寸须在现场复合和修正</text>
<path d="M1105 288.3h10.4v1.19h-10.4zM1116.2 288.3h2.4v1.19h-2.4zM1119.4 288.3h1.6v1.19h-1.6zM1121.8 288.3h0.8v1.19h-0.8zM1123.4 288.3h1.6v1.19h-1.6zM1105 289.44h1.6v1.19h-1.6zM1107.4 289.44h11.2v1.19h-11.2zM1119.4 289.44h3.2v1.19h-3.2zM1123.4 289.44h1.6v1.19h-1.6zM1105.8 290.57h7.2v1.19h-7.2zM1113.8 290.57h4v1.19h-4zM1119.4 290.57h4v1.19h-4zM1105 291.71h9.6v1.19h-9.6zM1115.4 291.71h2.4v1.19h-2.4zM1120.2 291.71h2.4v1.19h-2.4zM1124.2 291.71h0.8v1.19h-0.8zM1105 292.84h8v1.19h-8zM1113.8 292.84h4v1.19h-4zM1121 292.84h4v1.19h-4zM1105 293.98h8v1.19h-8zM1113.8 293.98h4.8v1.19h-4.8zM1120.2 293.98h4.8v1.19h-4.8zM1105.8 295.12h1.6v1.19h-1.6zM1108.2 295.12h4v1.19h-4zM1113.8 295.12h3.2v1.19h-3.2zM1117.8 295.12h0.8v1.19h-0.8zM1119.4 295.12h1.6v1.19h-1.6zM1105 296.25h7.2v1.19h-7.2zM1113 296.25h0.8v1.19h-0.8zM1116.2 296.25h4.8v1.19h-4.8zM1122.6 296.25h1.6v1.19h-1.6zM1105 297.39h1.6v1.19h-1.6zM1108.2 297.39h2.4v1.19h-2.4zM1111.4 297.39h0.8v1.19h-0.8zM1113.8 297.39h1.6v1.19h-1.6zM1116.2 297.39h3.2v1.19h-3.2zM1121 297.39h0.8v1.19h-0.8zM1123.4 297.39h1.6v1.19h-1.6zM1105 298.52h2.4v1.19h-2.4zM1108.2 298.52h1.6v1.19h-1.6zM1110.6 298.52h0.8v1.19h-0.8zM1113 298.52h6.4v1.19h-6.4zM1120.2 298.52h2.4v1.19h-2.4zM1123.4 298.52h0.8v1.19h-0.8zM1105 299.66h5.6v1.19h-5.6zM1111.4 299.66h5.6v1.19h-5.6zM1117.8 299.66h3.2v1.19h-3.2zM1121.8 299.66h2.4v1.19h-2.4zM1105 300.8h6.4v1.19h-6.4zM1112.2 300.8h0.8v1.19h-0.8zM1114.6 300.8h1.6v1.19h-1.6zM1117.8 300.8h5.6v1.19h-5.6zM1105 301.93h3.2v1.19h-3.2zM1109.8 301.93h0.8v1.19h-0.8zM1111.4 301.93h1.6v1.19h-1.6zM1114.6 301.93h10.4v1.19h-10.4zM1105 303.07h1.6v1.19h-1.6zM1109 303.07h2.4v1.19h-2.4zM1112.2 303.07h2.4v1.19h-2.4zM1116.2 303.07h1.6v1.19h-1.6zM1118.6 303.07h5.6v1.19h-5.6zM1105 304.2h0.8v1.19h-0.8zM1106.6 304.2h0.8v1.19h-0.8zM1108.2 304.2h0.8v1.19h-0.8zM1109.8 304.2h2.4v1.19h-2.4zM1113 304.2h12v1.19h-12zM1105 305.34h5.6v1.19h-5.6zM1111.4 305.34h0.8v1.19h-0.8zM1113 305.34h1.6v1.19h-1.6zM1115.4 305.34h2.4v1.19h-2.4zM1118.6 305.34h0.8v1.19h-0.8zM1120.2 305.34h4.8v1.19h-4.8zM1105 306.48h4v1.19h-4zM1110.6 306.48h6.4v1.19h-6.4zM1118.6 306.48h1.6v1.19h-1.6zM1121 306.48h4v1.19h-4zM1105 307.61h12.8v1.19h-12.8zM1118.6 307.61h1.6v1.19h-1.6zM1121 307.61h3.2v1.19h-3.2zM1105.8 308.75h1.6v1.19h-1.6zM1108.2 308.75h2.4v1.19h-2.4zM1113 308.75h0.8v1.19h-0.8zM1114.6 308.75h5.6v1.19h-5.6zM1121 308.75h4v1.19h-4zM1105 309.88h0.8v1.19h-0.8zM1106.6 309.88h9.6v1.19h-9.6zM1117 309.88h8v1.19h-8zM1105 311.02h11.2v1.19h-11.2zM1117 311.02h0.8v1.19h-0.8zM1119.4 311.02h1.6v1.19h-1.6zM1122.6 311.02h2.4v1.19h-2.4zM1105.8 312.16h3.2v1.19h-3.2zM1109.8 312.16h0.8v1.19h-0.8zM1111.4 312.16h0.8v1.19h-0.8zM1113 312.16h1.6v1.19h-1.6zM1115.4 312.16h7.2v1.19h-7.2zM1123.4 312.16h1.6v1.19h-1.6zM1105.8 313.29h0.8v1.19h-0.8zM1107.4 313.29h0.8v1.19h-0.8zM1109 313.29h2.4v1.19h-2.4zM1112.2 313.29h4.8v1.19h-4.8zM1117.8 313.29h0.8v1.19h-0.8zM1119.4 313.29h4v1.19h-4zM1105.8 314.43h0.8v1.19h-0.8zM1108.2 314.43h7.2v1.19h-7.2zM1116.2 314.43h4v1.19h-4zM1121 314.43h4v1.19h-4zM1105 315.56h2.4v1.19h-2.4zM1108.2 315.56h1.6v1.19h-1.6zM1111.4 315.56h7.2v1.19h-7.2zM1119.4 315.56h5.6v1.19h-5.6z" fill="#000"/>
<line x1="1128.3" y1="286" x2="1128.3" y2="318.3" stroke="#000" stroke-width="1.2"/>
<text class="cg" x="1132.7" y="295.7" font-size="8.04" textLength="31.3" lengthAdjust="spacingAndGlyphs">宁夏著名商标</text>
<text class="cg" x="1132.7" y="306.3" font-size="8.04" textLength="46.6" lengthAdjust="spacingAndGlyphs">宁夏家居业领导品牌</text>
<text x="1132" y="317.3" font-family="Liberation Sans" font-weight="bold" font-size="11.17" textLength="6.6" lengthAdjust="spacingAndGlyphs" xml:space="preserve">17</text>
<text class="cg" x="1138.8" y="316.67" font-size="9.35" textLength="7.2" lengthAdjust="spacingAndGlyphs">年</text>
<text class="cg" x="1148.3" y="316.6" font-size="6.96" textLength="30.5" lengthAdjust="spacingAndGlyphs">专注只做家装</text>
<text class="cg" x="1100.9" y="337.58" font-size="7.17" textLength="10.3" lengthAdjust="spacingAndGlyphs">电话</text>
<text x="1111.2" y="338.05" font-family="Liberation Sans" font-weight="bold" font-size="7.96" textLength="37.5" lengthAdjust="spacingAndGlyphs" xml:space="preserve" stroke="#000" stroke-width="0.1">:0951-5047688</text>
<text class="cg" x="1100.9" y="350.98" font-size="7.17" textLength="10.3" lengthAdjust="spacingAndGlyphs">网址</text>
<text x="1111.2" y="351.45" font-family="Liberation Sans" font-weight="bold" font-size="7.96" textLength="35.7" lengthAdjust="spacingAndGlyphs" xml:space="preserve" stroke="#000" stroke-width="0.1">:www.chzs.net</text>
<text class="cg" x="1100.9" y="364.46" font-size="7.39" textLength="84.1" lengthAdjust="spacingAndGlyphs">宁夏银川市正源北街紫云华庭商业街</text>
<text class="cg" x="1086.7" y="567.54" font-size="14.57" textLength="40" lengthAdjust="spacingAndGlyphs">工程名称</text>
<text x="1128.5" y="568.2" font-family="Liberation Sans" font-weight="bold" font-size="5.31" textLength="19.8" lengthAdjust="spacingAndGlyphs" xml:space="preserve" stroke="#000" stroke-width="0.12" word-spacing="1">PROJECT:</text>
<text class="cg" x="1087.3" y="600.17" font-size="14.35" textLength="102.1" lengthAdjust="spacingAndGlyphs">北塔书院K2户型样板间</text>
<text class="cg" x="1086.7" y="630.24" font-size="14.57" textLength="40" lengthAdjust="spacingAndGlyphs">图纸名称</text>
<text x="1127" y="628.7" font-family="Liberation Sans" font-weight="bold" font-size="5.31" textLength="35.7" lengthAdjust="spacingAndGlyphs" xml:space="preserve" stroke="#000" stroke-width="0.12" word-spacing="1">DRAWING TITLE:</text>
<text class="cg" x="1110" y="665.94" font-size="14.57" textLength="55" lengthAdjust="spacingAndGlyphs">墙体定位图</text>
<text class="cg" x="1086.7" y="698.54" font-size="14.57" textLength="55.1" lengthAdjust="spacingAndGlyphs">设计师/日期</text>
<text x="1146" y="698.7" font-family="Liberation Sans" font-weight="bold" font-size="5.31" textLength="30.7" lengthAdjust="spacingAndGlyphs" xml:space="preserve" stroke="#000" stroke-width="0.12" word-spacing="1">DESIGN/DATE:</text>
<text class="cg" x="1086.7" y="764.54" font-size="14.57" textLength="55.1" lengthAdjust="spacingAndGlyphs">制图员/日期</text>
<text x="1144" y="764.7" font-family="Liberation Sans" font-weight="bold" font-size="5.31" textLength="27.7" lengthAdjust="spacingAndGlyphs" xml:space="preserve" stroke="#000" stroke-width="0.12" word-spacing="1">DRAWN/DATE:</text>
<text class="cg" x="1121.7" y="795.17" font-size="14.35" textLength="30" lengthAdjust="spacingAndGlyphs">王佳安</text>
<text class="cg" x="1086.7" y="835.94" font-size="14.57" textLength="55.1" lengthAdjust="spacingAndGlyphs">审核人/日期</text>
<text x="1140.5" y="837.1" font-family="Liberation Sans" font-weight="bold" font-size="5.31" textLength="35.5" lengthAdjust="spacingAndGlyphs" xml:space="preserve" stroke="#000" stroke-width="0.12" word-spacing="1">APPROVED/DATE:</text>
<text class="cg" x="1086.7" y="905.24" font-size="14.57" textLength="40" lengthAdjust="spacingAndGlyphs">图纸编号</text>
<text x="1128.5" y="906.1" font-family="Liberation Sans" font-weight="bold" font-size="5.31" textLength="30.5" lengthAdjust="spacingAndGlyphs" xml:space="preserve" stroke="#000" stroke-width="0.12" word-spacing="1">DRAWING NO.:</text>
<text class="cg" x="1086.7" y="972.94" font-size="14.57" textLength="19.3" lengthAdjust="spacingAndGlyphs">比例</text>
<text x="1111.7" y="975.4" font-family="Liberation Sans" font-weight="bold" font-size="5.31" textLength="15.6" lengthAdjust="spacingAndGlyphs" xml:space="preserve" stroke="#000" stroke-width="0.12" word-spacing="1">SCALE:</text>
<text x="1123.3" y="939.2" font-family="Liberation Sans" font-weight="bold" font-size="13.69" textLength="26" lengthAdjust="spacingAndGlyphs" xml:space="preserve">PM-04</text>
<text x="1126.7" y="1013.1" font-family="Liberation Sans" font-weight="bold" font-size="13.69" textLength="20.6" lengthAdjust="spacingAndGlyphs" xml:space="preserve">1:60</text>
<text class="cg" x="1087" y="1086.48" font-size="10.22" textLength="93.5" lengthAdjust="spacingAndGlyphs">如有不符须立即通知设计人员</text>
<text x="1087" y="1096.9" font-family="Liberation Sans" font-weight="bold" font-size="4.75" textLength="101.8" lengthAdjust="spacingAndGlyphs" xml:space="preserve" stroke="#000" stroke-width="0.12" word-spacing="1">CONTRACTORS MUST CHECK ALL DIMENSIONS ON SITE</text>
<text class="cg" x="1087" y="1121.18" font-size="10.22" textLength="78.5" lengthAdjust="spacingAndGlyphs">施工时须以标注尺寸为准</text>
<text x="1087" y="1131" font-family="Liberation Sans" font-weight="bold" font-size="4.75" textLength="56" lengthAdjust="spacingAndGlyphs" xml:space="preserve" stroke="#000" stroke-width="0.12" word-spacing="1">THIS DRAWING IS COPYRIGHT</text>
<path d="M1129.8 711.5L1123.3 726.5L1131.5 720.3M1126.5 715.8L1130 719M1121.2 720.8l.3 1.2M1128 724.5L1127 729.5L1130 732.5L1123.8 735.3M1119.8 730.5L1120.8 733.5M1128.8 733V748M1139.8 715.8L1139.3 718.3M1140.5 720.5L1139.3 723M1135.8 725.3L1139 725L1136.5 729L1140 730.5M1133 726.8L1133.5 729M1137 732.5Q1140 733.2 1142.5 732M1152.8 718.3L1147.3 721M1152 719L1145.5 727.8L1152 724.5M1150 730l1.2 1M1154.5 731.3Q1150 734 1148.5 737.5L1150.5 739.5L1151.5 737" fill="none" stroke="#111" stroke-width="1.15" stroke-linecap="round" stroke-linejoin="round"/>
<rect x="951.3" y="1079.5" width="126.7" height="98.5" fill="none" stroke="#ebebeb" stroke-width="1"/>
<line x1="1011.8" y1="1079.5" x2="1011.8" y2="1178" stroke="#ebebeb" stroke-width="1"/>
<line x1="951.3" y1="1099.5" x2="1078" y2="1099.5" stroke="#ebebeb" stroke-width="1"/>
<line x1="951.3" y1="1119.3" x2="1078" y2="1119.3" stroke="#ebebeb" stroke-width="1"/>
<line x1="951.3" y1="1139.3" x2="1078" y2="1139.3" stroke="#ebebeb" stroke-width="1"/>
<line x1="951.3" y1="1158.8" x2="1078" y2="1158.8" stroke="#ebebeb" stroke-width="1"/>
<rect x="955.5" y="1103" width="53.3" height="11.6" fill="#000"/>
<rect x="955.5" y="1123" width="53.3" height="12" fill="url(#dg)" stroke="#e8e8e8" stroke-width="1"/>
<rect x="955.5" y="1143" width="53.3" height="12" fill="url(#xx)" stroke="#e8e8e8" stroke-width="1"/>
<rect x="955.5" y="1162.5" width="53.3" height="12.5" fill="url(#bk2)" stroke="#e6e6e6" stroke-width="1"/>
<text class="cg" x="972.6" y="1092.52" font-size="10.33" textLength="13.8" lengthAdjust="spacingAndGlyphs">图例</text>
<text class="cg" x="1038.8" y="1092.52" font-size="10.33" textLength="13.9" lengthAdjust="spacingAndGlyphs">说明</text>
<text class="cg" x="1023" y="1113.02" font-size="10.33" textLength="41.3" lengthAdjust="spacingAndGlyphs">原有建筑墙体</text>
<text class="cg" x="1028.5" y="1133.02" font-size="10.33" textLength="28" lengthAdjust="spacingAndGlyphs">拆除墙体</text>
<text class="cg" x="1019.3" y="1152.52" font-size="10.33" textLength="47.7" lengthAdjust="spacingAndGlyphs">新建石膏板隔墙</text>
<text class="cg" x="1016.3" y="1172.52" font-size="10.33" textLength="55" lengthAdjust="spacingAndGlyphs">新建红砖砌堆墙体</text>
<ellipse cx="520.8" cy="1135.3" rx="10" ry="14.6" fill="none" stroke="#dcdcdc"/>
<line x1="531.7" y1="1135.3" x2="654.2" y2="1135.3" stroke="#dcdcdc" stroke-width="1"/>
<text x="518.6" y="1140.5" font-family="Liberation Mono" font-weight="bold" font-size="16.13" textLength="5.7" lengthAdjust="spacingAndGlyphs" xml:space="preserve">P</text>
<text class="cg" x="561.7" y="1131.14" font-size="14.57" textLength="53.6" lengthAdjust="spacingAndGlyphs">墙体定位图</text>
<text x="539.5" y="1147.8" font-family="Liberation Sans" font-weight="bold" font-size="13.41" textLength="8" lengthAdjust="spacingAndGlyphs" xml:space="preserve" stroke="#000" stroke-width="0.3">1F</text>
<text x="555.8" y="1147.8" font-family="Liberation Sans" font-weight="bold" font-size="13.41" textLength="21.2" lengthAdjust="spacingAndGlyphs" xml:space="preserve" stroke="#000" stroke-width="0.3">PLAN</text>
<text x="595" y="1147.8" font-family="Liberation Sans" font-weight="bold" font-size="13.41" textLength="30.8" lengthAdjust="spacingAndGlyphs" xml:space="preserve" stroke="#000" stroke-width="0.3">SCALE:</text>
<text x="634.2" y="1147.8" font-family="Liberation Sans" font-weight="bold" font-size="13.41" textLength="20.8" lengthAdjust="spacingAndGlyphs" xml:space="preserve">1:60</text></g>
</svg>
</body></html>
